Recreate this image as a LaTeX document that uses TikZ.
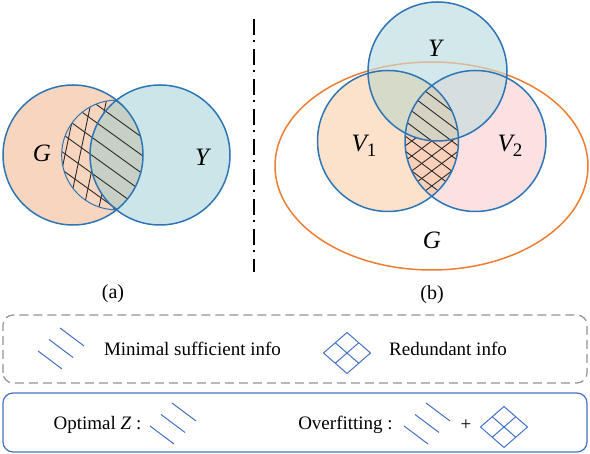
\documentclass[tikz,border=0pt]{standalone}
\usepackage{fontspec}
\setmainfont{Liberation Serif}
\definecolor{cblue}{HTML}{2E75B6}
\definecolor{iblue}{HTML}{4472C4}
\definecolor{gfill}{HTML}{F8D5BF}
\definecolor{ylfill}{HTML}{CBE5E8}
\definecolor{gyfill}{HTML}{C7D0C4}
\definecolor{vafill}{HTML}{FDE2CB}
\definecolor{vbfill}{HTML}{FBE1E1}
\definecolor{yrfill}{HTML}{D2E8EB}
\definecolor{yvafill}{HTML}{D5DBC8}
\definecolor{yvbfill}{HTML}{D6DEE0}
\definecolor{vvfill}{HTML}{FAD0BA}
\definecolor{vvyfill}{HTML}{D6D2C4}
\definecolor{gorange}{HTML}{ED7D31}
\definecolor{hatchc}{HTML}{2B2B2B}
\begin{document}
\begin{tikzpicture}[x=1pt,y=1pt,
  ring/.style={draw=cblue, line width=1.5pt},
  hatchline/.style={draw=hatchc, line width=0.9pt},
  iconline/.style={draw=iblue, line width=1pt},
  biglabel/.style={font=\fontsize{25}{30}\selectfont\itshape, inner sep=0pt},
  legtext/.style={font=\fontsize{19}{23}\selectfont, inner sep=0pt},
  pics/slashicon/.style={code={
    \foreach \i in {0,1,2} \draw[iconline] ({11*\i},{11.5*\i}) -- ++(24,-18);
  }},
  pics/gridicon/.style={code={
    \draw[iconline] (0,20.5) -- (23.5,0) -- (0,-20.5) -- (-23.5,0) -- cycle;
    \draw[iconline] (-11.75,10.25) -- (11.75,-10.25);
    \draw[iconline] (11.75,10.25) -- (-11.75,-10.25);
  }},
]
\useasboundingbox (0,0) rectangle (590,454);

% ---------- (a) ----------
\fill[gfill] (73,299) circle (70);
\begin{scope}
  \clip (73,299) circle (70);
  \clip (116.5,299) circle (54.84);
  \foreach \k in {-7,...,4}
    \draw[hatchline] ({95+15*\k-14.7},229) -- ({95+15*\k+14.7},369);
\end{scope}
\fill[ylfill] (160,299) circle (70);
\begin{scope}
  \clip (73,299) circle (70);
  \fill[gyfill] (160,299) circle (70);
\end{scope}
\begin{scope}
  \clip (73,299) circle (70);
  \clip (116.5,299) circle (54.84);
  \foreach \k in {-8,...,8}
    \draw[hatchline] (36.5,{299+18*\k+57.6}) -- (196.5,{299+18*\k-57.6});
\end{scope}
\begin{scope}
  \clip (73,299) circle (70);
  \draw[cblue, line width=1pt] (116.5,299) circle (54.84);
\end{scope}
\draw[ring] (73,299) circle (70);
\draw[ring] (160,299) circle (70);
\node[biglabel] (ga) at (42,301) {G};
\node[biglabel] (ya) at (202,297) {Y};

% ---------- (b) ----------
\draw[gorange, line width=1.5pt] (431.5,288) ellipse [x radius=156.5, y radius=104];
\fill[vafill] (388,313) circle (70.5);
\fill[vbfill] (475.5,313) circle (70.5);
\begin{scope}
  \clip (388,313) circle (70.5);
  \fill[vvfill] (475.5,313) circle (70.5);
  \clip (475.5,313) circle (70.5);
  \foreach \k in {-8,...,8}
    \draw[hatchline] (351.75,{313+15*\k-60}) -- (511.75,{313+15*\k+60});
\end{scope}
\fill[yrfill] (437.5,382.5) circle (69.5);
\begin{scope}
  \clip (437.5,382.5) circle (69.5);
  \fill[yvafill] (388,313) circle (70.5);
  \fill[yvbfill] (475.5,313) circle (70.5);
  \clip (388,313) circle (70.5);
  \fill[vvyfill] (475.5,313) circle (70.5);
\end{scope}
\begin{scope}
  \clip (437.5,382.5) circle (69.5);
  \draw[gorange!45!yrfill, line width=1.5pt] (431.5,288) ellipse [x radius=156.5, y radius=104];
\end{scope}
\begin{scope}
  \clip (388,313) circle (70.5);
  \clip (475.5,313) circle (70.5);
  \foreach \k in {-8,...,8}
    \draw[hatchline] (351.75,{313+15*\k+60}) -- (511.75,{313+15*\k-60});
\end{scope}
\draw[ring] (388,313) circle (70.5);
\draw[ring] (475.5,313) circle (70.5);
\draw[ring] (437.5,382.5) circle (69.5);
\node[biglabel] (yb) at (435,406) {Y};
\node[biglabel] (v1) at (364,308) {V\raisebox{-5pt}{\upshape\fontsize{19}{20}\selectfont 1}};
\node[biglabel] (v2) at (510,308) {V\raisebox{-5pt}{\upshape\fontsize{19}{20}\selectfont 2}};
\node[biglabel] (gb) at (432,214) {G};

% separator and captions
\draw[line width=2pt, dash pattern=on 16pt off 5pt on 2pt off 7pt] (254,435) -- (254,182);
\node[legtext, font=\fontsize{20}{24}\selectfont] (capa) at (113,160) {(a)};
\node[legtext, font=\fontsize{20}{24}\selectfont] (capb) at (432,159) {(b)};

% legend boxes
\draw[draw=gray!85, line width=1.2pt, dash pattern=on 9pt off 5pt, rounded corners=10pt] (3,71) rectangle (587,139);
\draw[draw=iblue, line width=1.2pt, rounded corners=10pt] (3,2) rectangle (587,61);

\pic at (38,103) {slashicon};
\node[legtext] (minsuf) at (192.5,105) {Minimal sufficient info};
\pic at (347,101) {gridicon};
\node[legtext] (redund) at (448,105) {Redundant info};

\node[legtext] (optz) at (97.5,29) {Optimal \textit{Z} :};
\pic at (150,28) {slashicon};
\node[legtext] (overf) at (345.5,29) {Overfitting :};
\pic at (404,28) {slashicon};
\node[legtext] (plus) at (466,29) {+};
\pic at (504,27) {gridicon};
\end{tikzpicture}
\end{document}
